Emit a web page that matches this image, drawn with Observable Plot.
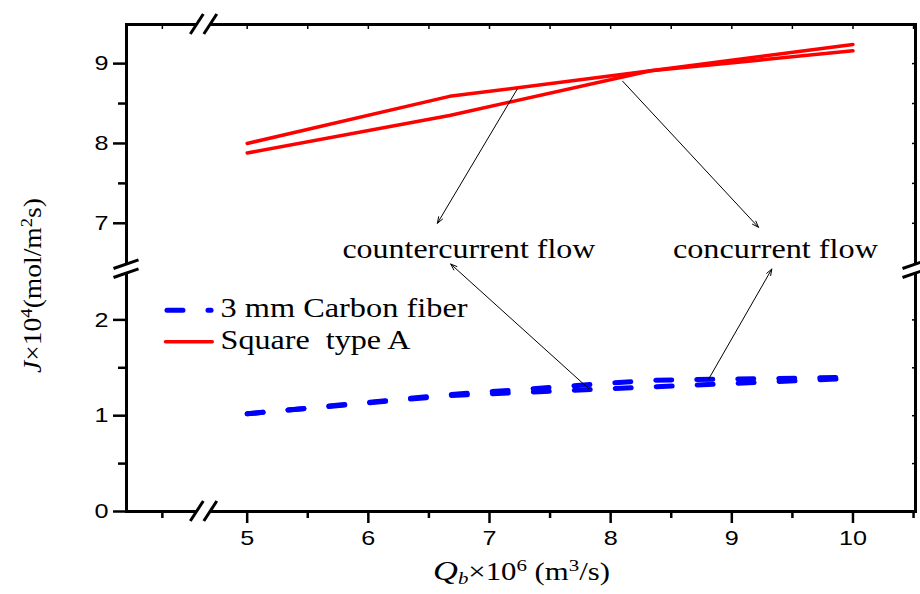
<!DOCTYPE html>
<html><head><meta charset="utf-8">
<script src="https://cdn.jsdelivr.net/npm/d3@7"></script>
<script src="https://cdn.jsdelivr.net/npm/@observablehq/plot@0.6"></script>
<style>body{margin:0;background:#fff} svg{display:block}</style>
</head><body><div id="chart"></div>
<script>
// ---------- data ----------
const Qb = [5, 6.67, 8.33, 10];
const redCountercurrent = [8.00, 8.59, 8.91, 9.24];
const redConcurrent     = [7.88, 8.35, 8.91, 9.16];
const blueCountercurrent = [1.02, 1.21, 1.30, 1.39];
const blueConcurrent     = [1.02, 1.22, 1.37, 1.40];
const xMajorTicks = [5, 6, 7, 8, 9, 10];
const xMinorTicks = [4.3, 5.5, 6.5, 7.5, 8.5, 9.5, 10.5];
const yMajorTicks = [0, 1, 2, 7, 8, 9];
const yMinorTicks = [0.5, 1.5, 7.5, 8.5];
const legendLabels = ["3 mm Carbon fiber", "Square  type A"];
const annotationLabels = ["countercurrent flow", "concurrent flow"];
// annotation anchor points (Qb, J)
const annotationX = [6.83, 9.36];
const annotationJ = [6.565, 6.565];
const arrowFromX = [7.23, 8.10, 7.82, 8.81];
const arrowFromJ = [8.684, 8.778, 1.281, 1.385];
const arrowToX   = [6.57, 9.22, 6.68, 9.33];
const arrowToJ   = [7.00, 6.95, 2.583, 2.531];

// ---------- broken y axis: lower segment 0..2.55, upper 6.45..9.49 ----------
const LOW_MAX = 2.55, HIGH_MIN = 6.45, HIGH_MAX = 9.49;
const LOW_K = 96, HIGH_K = 80; // relative scale of the two segments
function brk(v) { return v < 4 ? v * LOW_K : LOW_MAX * LOW_K + (v - HIGH_MIN) * HIGH_K; }
function unbrk(t) { return t <= LOW_MAX * LOW_K + 0.01 ? t / LOW_K : HIGH_MIN + (t - LOW_MAX * LOW_K) / HIGH_K; }

const series = [
  {name: "red-counter", vals: redCountercurrent, color: "red"},
  {name: "red-con", vals: redConcurrent, color: "red"},
  {name: "blue-counter", vals: blueCountercurrent, color: "blue"},
  {name: "blue-con", vals: blueConcurrent, color: "blue"}
];
const rows = series.flatMap(s => Qb.map((q, i) => ({series: s.name, color: s.color, Qb: q, J: s.vals[i]})));
const redRows = rows.filter(d => d.color === "red");
const blueRows = rows.filter(d => d.color === "blue");
const arrows = arrowFromX.map((x, i) => ({x1: x, y1: arrowFromJ[i], x2: arrowToX[i], y2: arrowToJ[i]}));
const annots = annotationLabels.map((t, i) => ({text: t, x: annotationX[i], J: annotationJ[i]}));
// legend placed in data space
const legendLines = [
  {key: "blue", x: 4.338, J: 2.101}, {key: "blue", x: 4.702, J: 2.101},
  {key: "red", x: 4.326, J: 1.771}, {key: "red", x: 4.712, J: 1.771}
];
const legendText = [{text: legendLabels[0], x: 4.78, J: 2.031}, {text: legendLabels[1], x: 4.78, J: 1.698}];

const allY = [...yMajorTicks, ...yMinorTicks];
const allX = [...xMajorTicks, ...xMinorTicks];
const noText = {fill: "none", tickFormat: () => "", label: null};
const serif = "'Liberation Serif', 'Times New Roman', serif";

const plot = Plot.plot({
  width: 920, height: 594,
  marginLeft: 126, marginRight: 5, marginTop: 24, marginBottom: 83,
  x: {domain: [4.004, 10.516]},
  y: {domain: [0, brk(HIGH_MAX)]},
  style: {fontFamily: "'Liberation Sans', Arial, sans-serif", fontSize: "21px", background: "white", color: "black"},
  marks: [
    Plot.line(redRows, {x: "Qb", y: d => brk(d.J), z: "series", stroke: "#ff0000", strokeWidth: 3.5}),
    Plot.line(blueRows, {x: "Qb", y: d => brk(d.J), z: "series", stroke: "#0000ff", strokeWidth: 5, strokeDasharray: "16,25", strokeLinecap: "round"}),
    Plot.arrow(arrows, {x1: "x1", y1: d => brk(d.y1), x2: "x2", y2: d => brk(d.y2), stroke: "black", strokeWidth: 1, headLength: 10, headAngle: 40}),
    Plot.text(annots, {x: "x", y: d => brk(d.J), text: "text", fontFamily: serif, fontSize: 26.5, textAnchor: "middle", lineAnchor: "bottom", fill: "black"}),
    Plot.line(legendLines.filter(d => d.key === "blue"), {x: "x", y: d => brk(d.J), stroke: "#0000ff", strokeWidth: 5, strokeDasharray: "16,25", strokeLinecap: "round"}),
    Plot.line(legendLines.filter(d => d.key === "red"), {x: "x", y: d => brk(d.J), stroke: "#ff0000", strokeWidth: 3.5}),
    Plot.text(legendText, {x: "x", y: d => brk(d.J), text: "text", fontFamily: serif, fontSize: 26.5, textAnchor: "start", lineAnchor: "bottom", fill: "black"}),
    Plot.axisX(xMajorTicks, {tickSize: 12, tickPadding: 7, strokeWidth: 2.5, label: null, tickFormat: d => String(d)}),
    Plot.axisX(xMinorTicks, {tickSize: 7, strokeWidth: 2.5, ...noText}),
    Plot.axisX(allX, {anchor: "top", tickSize: 4, inset: 4, strokeWidth: 1.5, ...noText}),
    Plot.axisY(yMajorTicks.map(brk), {tickSize: 13, tickPadding: 5, strokeWidth: 2.5, label: null, tickFormat: t => String(Math.round(unbrk(t) * 10) / 10)}),
    Plot.axisY(yMinorTicks.map(brk), {tickSize: 8, strokeWidth: 2.5, ...noText}),
    Plot.axisY(allY.map(brk), {anchor: "right", tickSize: 4, inset: 4, strokeWidth: 1.5, ...noText}),
    Plot.frame({stroke: "black", strokeWidth: 3})
  ]
});
document.getElementById("chart").appendChild(plot);

const svg = d3.select(plot);
const X = plot.scale("x"), Y = plot.scale("y");

// stretch fonts horizontally, as in the original
const widths = {"countercurrent flow": 253, "concurrent flow": 205, "3 mm Carbon fiber": 247, "Square  type A": 190};
svg.selectAll("text").each(function () {
  const t = this.textContent;
  if (widths[t]) {
    this.setAttribute("textLength", widths[t]);
    this.setAttribute("lengthAdjust", "spacingAndGlyphs");
    this.style.whiteSpace = "pre";
  }
});
svg.selectAll('g[aria-label="x-axis tick label"] text, g[aria-label="y-axis tick label"] text').each(function () {
  const L = this.getComputedTextLength();
  if (L > 0) {
    this.setAttribute("textLength", (L * 1.2).toFixed(1));
    this.setAttribute("lengthAdjust", "spacingAndGlyphs");
  }
});

// axis break marks
const g = svg.append("g").attr("stroke", "black").attr("stroke-width", 3);
function yBreak(cx, cy) {
  const hw = 12.5, rise = 4.3, sep = 4.5;
  g.append("polygon").attr("points", [[cx - hw, cy - sep + rise], [cx + hw, cy - sep - rise], [cx + hw, cy + sep - rise], [cx - hw, cy + sep + rise]].map(p => p.join(",")).join(" ")).attr("fill", "white").attr("stroke", "none");
  for (const s of [-sep, sep]) g.append("line").attr("x1", cx - hw).attr("y1", cy + s + rise).attr("x2", cx + hw).attr("y2", cy + s - rise);
}
function xBreak(cx, cy) {
  const hh = 10, run = 6.5, sep = 6.75;
  g.append("polygon").attr("points", [[cx - sep - run, cy + hh], [cx - sep + run, cy - hh], [cx + sep + run, cy - hh], [cx + sep - run, cy + hh]].map(p => p.join(",")).join(" ")).attr("fill", "white").attr("stroke", "none");
  for (const s of [-sep, sep]) g.append("line").attr("x1", cx + s - run).attr("y1", cy + hh).attr("x2", cx + s + run).attr("y2", cy - hh);
}
const yb = Y.apply(brk(LOW_MAX)) + 2;
yBreak(X.apply(4.004), yb);
yBreak(X.apply(10.516), yb);
const xb = X.apply(4.644);
xBreak(xb, Y.apply(0));
xBreak(xb, Y.apply(brk(HIGH_MAX)));

// axis titles
const yl = svg.append("text").attr("transform", "translate(41,285.5) rotate(-90)").attr("text-anchor", "middle")
  .attr("font-family", serif).attr("font-size", 25).attr("fill", "black");
yl.append("tspan").attr("font-style", "italic").text("J");
yl.append("tspan").text("×10");
yl.append("tspan").attr("baseline-shift", "super").attr("font-size", 17).text("4");
yl.append("tspan").text("(mol/m");
yl.append("tspan").attr("baseline-shift", "super").attr("font-size", 17).text("2");
yl.append("tspan").text("s)");
yl.attr("textLength", 175).attr("lengthAdjust", "spacingAndGlyphs");

const xl = svg.append("text").attr("x", 521.5).attr("y", 580).attr("text-anchor", "middle")
  .attr("font-family", serif).attr("font-size", 25).attr("fill", "black");
xl.append("tspan").attr("font-style", "italic").attr("font-size", 28).text("Q");
xl.append("tspan").attr("font-style", "italic").attr("baseline-shift", "-4").attr("font-size", 17).text("b");
xl.append("tspan").text("×10");
xl.append("tspan").attr("baseline-shift", "super").attr("font-size", 17).text("6");
xl.append("tspan").text(" (m");
xl.append("tspan").attr("baseline-shift", "super").attr("font-size", 17).text("3");
xl.append("tspan").text("/s)");
xl.attr("textLength", 177).attr("lengthAdjust", "spacingAndGlyphs");
</script>
</body></html>
